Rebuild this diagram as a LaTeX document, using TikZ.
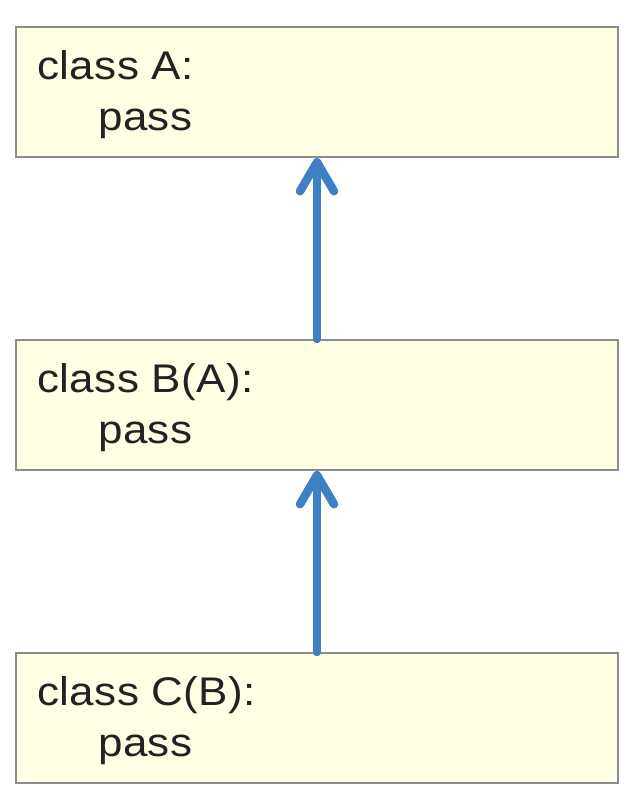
\documentclass[tikz,border=0pt]{standalone}
\usepackage{fontspec}
\setmainfont{Liberation Sans}[FakeStretch=1.1, LetterSpace=1]
\usetikzlibrary{arrows.meta}
\definecolor{boxfill}{HTML}{FFFFE3}
\definecolor{boxline}{HTML}{8C8C8C}
\definecolor{arrowblue}{HTML}{3F80C5}
\definecolor{txt}{HTML}{222222}
\begin{document}
\begin{tikzpicture}[x=1pt,y=-1pt,
  cls/.style={draw=boxline, fill=boxfill, line width=2pt, minimum width=602pt, minimum height=130pt, inner sep=0pt, anchor=north west},
  code/.style={anchor=base west, inner sep=0pt, font=\fontsize{40}{48}\selectfont, text=txt},
  inherit/.style={draw=arrowblue, line width=8.5pt, line cap=round, -{Straight Barb[length=29pt, width=34pt, round]}}]
\useasboundingbox[fill=white] (0,0) rectangle (634,800);
\node[cls] (A) at (15,26) {};
\node[cls] (B) at (15,339) {};
\node[cls] (C) at (15,652) {};
\node[code] (a1) at (37,79) {class A:};
\node[code] (a2) at (98,130) {pass};
\node[code] (b1) at (37,392) {class B(A):};
\node[code] (b2) at (98,443) {pass};
\node[code] (c1) at (37,705) {class C(B):};
\node[code] (c2) at (98,756) {pass};
\draw[inherit] (B.north) -- (A.south);
\draw[inherit] (C.north) -- (B.south);
\end{tikzpicture}
\end{document}
